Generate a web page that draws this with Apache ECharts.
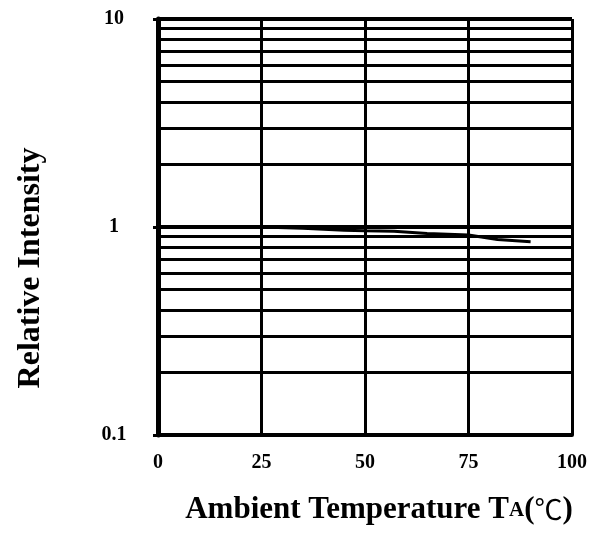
<!DOCTYPE html>
<html>
<head>
<meta charset="utf-8">
<script src="https://cdn.jsdelivr.net/npm/echarts@6/dist/echarts.min.js"></script>
<style>html,body{margin:0;padding:0;background:#fff}#c{width:601px;height:537px}</style>
</head>
<body>
<div id="c"></div>
<script>
var temps = [25, 35, 45, 50, 57, 65, 75, 82, 90];
var intensity = [1.0, 0.985, 0.965, 0.96, 0.955, 0.93, 0.915, 0.87, 0.85];
var xTicks = [0, 25, 50, 75, 100];
var minorGridValues = [0.2,0.3,0.4,0.5,0.6,0.7,0.8,0.9,2,3,4,5,6,7,8,9];
var xTitle = 'Ambient Temperature T';
var xTitleSub = 'A';
var xTitleUnit = ['(', '℃', ')'];
var yTitle = 'Relative Intensity';

var font = '"Liberation Serif","Times New Roman",serif';
var chart = echarts.init(document.getElementById('c'));
chart.setOption({
  animation: false,
  backgroundColor: '#fff',
  grid: {left: 158, right: 29, top: 19, bottom: 102, containLabel: false},
  title: {
    text: '{a|' + xTitle + '}{s|' + xTitleSub + '}{a|' + xTitleUnit[0] + '}{c|' + xTitleUnit[1] + '}{a|' + xTitleUnit[2] + '}',
    left: 374, top: 484, textAlign: 'center',
    textStyle: {
      rich: {
        a: {fontFamily: font, fontWeight: 'bold', fontSize: 31, color: '#000', lineHeight: 36, verticalAlign: 'bottom'},
        s: {fontFamily: font, fontWeight: 'bold', fontSize: 21, color: '#000', lineHeight: 36, verticalAlign: 'bottom', padding: [0,0,4,0]},
        c: {fontFamily: '"Noto Sans CJK SC", sans-serif', fontWeight: 'normal', fontSize: 28, color: '#000', lineHeight: 36, verticalAlign: 'bottom', padding: [0,0,2,0]}
      }
    }
  },
  graphic: [{
    type: 'text', x: 31, y: 268, rotation: Math.PI / 2,
    style: {text: yTitle, font: 'bold 32px ' + font, fill: '#000', align: 'center', verticalAlign: 'middle'}
  }],
  xAxis: {
    type: 'value', min: xTicks[0], max: xTicks[xTicks.length - 1], interval: 25,
    axisLine: {show: true, lineStyle: {color: '#000', width: 4}},
    axisTick: {show: false},
    axisLabel: {color: '#000', fontFamily: font, fontWeight: 'bold', fontSize: 20, margin: 18},
    splitLine: {show: true, lineStyle: {color: '#000', width: 3}}
  },
  yAxis: {
    type: 'log', logBase: 10, min: 0.1, max: 10,
    axisLine: {show: true, lineStyle: {color: '#000', width: 5}},
    axisTick: {show: true, inside: false, length: 5, lineStyle: {color: '#000', width: 3}},
    axisLabel: {color: '#000', fontFamily: font, fontWeight: 'bold', fontSize: 20, margin: 44, align: 'center',
      formatter: function (v) { return String(v); }},
    splitLine: {show: true, lineStyle: {color: '#000', width: 4}}
  },
  series: [{
    type: 'line',
    data: temps.map(function (t, i) { return [t, intensity[i]]; }),
    showSymbol: false,
    lineStyle: {color: '#000', width: 3},
    z: 3,
    markLine: {
      silent: true, symbol: 'none', label: {show: false},
      lineStyle: {color: '#000', width: 3, type: 'solid'},
      data: minorGridValues.map(function (v) { return {yAxis: v}; }),
      z: 2
    }
  }]
});
</script>
</body>
</html>
